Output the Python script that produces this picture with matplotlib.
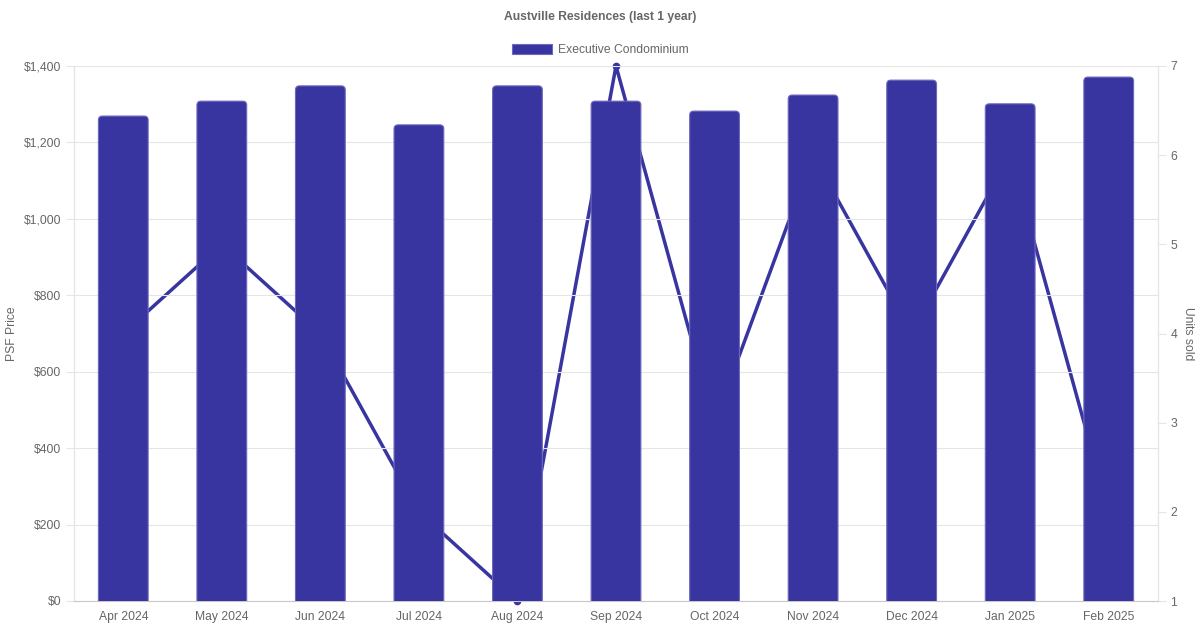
import matplotlib
matplotlib.use("Agg")
import matplotlib.pyplot as plt
from matplotlib.ticker import FuncFormatter, MultipleLocator
from matplotlib.patches import FancyBboxPatch, Patch

plt.rcParams['font.family'] = ['Liberation Sans', 'DejaVu Sans']

months = ["Apr 2024", "May 2024", "Jun 2024", "Jul 2024", "Aug 2024", "Sep 2024",
          "Oct 2024", "Nov 2024", "Dec 2024", "Jan 2025", "Feb 2025"]
psf_price = [1269, 1308, 1348, 1246, 1348, 1308, 1282, 1324, 1363, 1301, 1371]
units_sold = [4, 5, 4, 2, 1, 7, 3, 6, 4, 6, 2]

title = "Austville Residences (last 1 year)"
series_name = "Executive Condominium"

color = "#3935a0"
edge = "#6d6abd"
text_color = "#666666"
grid_color = "#e5e5e5"
fs = 8.7

fig = plt.figure(figsize=(12, 6.3), dpi=100)
ax = fig.add_axes([74/1200, 1-601/630, (1158-74)/1200, (601-66)/630])
ax2 = ax.twinx()

x = list(range(len(months)))

ax2.plot(x, units_sold, color=color, lw=2.5, marker='o', ms=4.5, zorder=1, clip_on=False)
bars = ax.bar(x, psf_price, width=0.505, color=color, edgecolor=edge, linewidth=0.8,
              zorder=3, label=series_name)

ax.set_xlim(-0.5, len(months) - 0.5)
ax.set_ylim(0, 1400)
ax2.set_ylim(1, 7)

# rounded tops: replace each bar's look with a rounded box derived from it
px_per_x = (1158 - 74) / len(months)
px_per_y = (601 - 66) / 1400
rad_px = 4.0
rx = rad_px / px_per_x
aspect = px_per_x / px_per_y
for b in bars:
    b.set_visible(False)
    bx, by = b.get_x(), b.get_y()
    bw, bh = b.get_width(), b.get_height()
    ry = rx * aspect
    p = FancyBboxPatch((bx, by - ry), bw, bh + ry,
                       boxstyle=f"round,pad=0,rounding_size={rx}",
                       mutation_aspect=aspect,
                       facecolor=color, edgecolor=edge, linewidth=0.8, zorder=3)
    ax.add_patch(p)

ax.set_zorder(ax2.get_zorder() + 1)
ax.patch.set_visible(False)

ax.yaxis.set_major_locator(MultipleLocator(200))
ax.yaxis.set_major_formatter(FuncFormatter(lambda v, p: f"${v:,.0f}"))
ax2.yaxis.set_major_locator(MultipleLocator(1))

ax.set_xticks(x)
ax.set_xticklabels(months)
ax.tick_params(axis='x', length=0, pad=7, labelsize=fs, labelcolor=text_color)
ax.tick_params(axis='y', length=6, width=0.8, color=grid_color, pad=3,
               labelsize=fs, labelcolor=text_color)
ax2.tick_params(axis='y', length=6, width=0.8, color=grid_color, pad=3,
                labelsize=fs, labelcolor=text_color)

ax2.grid(False)
ax.grid(axis='y', color=grid_color, lw=0.8, zorder=0)
ax.set_axisbelow(True)

for a in (ax, ax2):
    for s in a.spines.values():
        s.set_color(grid_color)
        s.set_linewidth(0.8)
    a.spines['top'].set_visible(False)
ax.spines['bottom'].set_color("#c8c8c8")
ax2.spines['bottom'].set_visible(False)

ax.set_ylabel("PSF Price", color=text_color, fontsize=fs, labelpad=4)
ax2.set_ylabel("Units sold", color=text_color, fontsize=fs, rotation=270, labelpad=12)

fig.text(0.5, 1-17/630, title, ha='center', va='center', fontsize=fs,
         fontweight='bold', color=text_color)

handle = Patch(facecolor=color, edgecolor=edge, linewidth=0.8)
ax.legend([handle], [series_name], loc='center',
          bbox_to_anchor=(0.5, 1 - 50/630), bbox_transform=fig.transFigure,
          frameon=False, fontsize=fs, handlelength=3.3, handleheight=0.9,
          handletextpad=0.5, labelcolor=text_color)

fig.savefig("out.png", dpi=100)
